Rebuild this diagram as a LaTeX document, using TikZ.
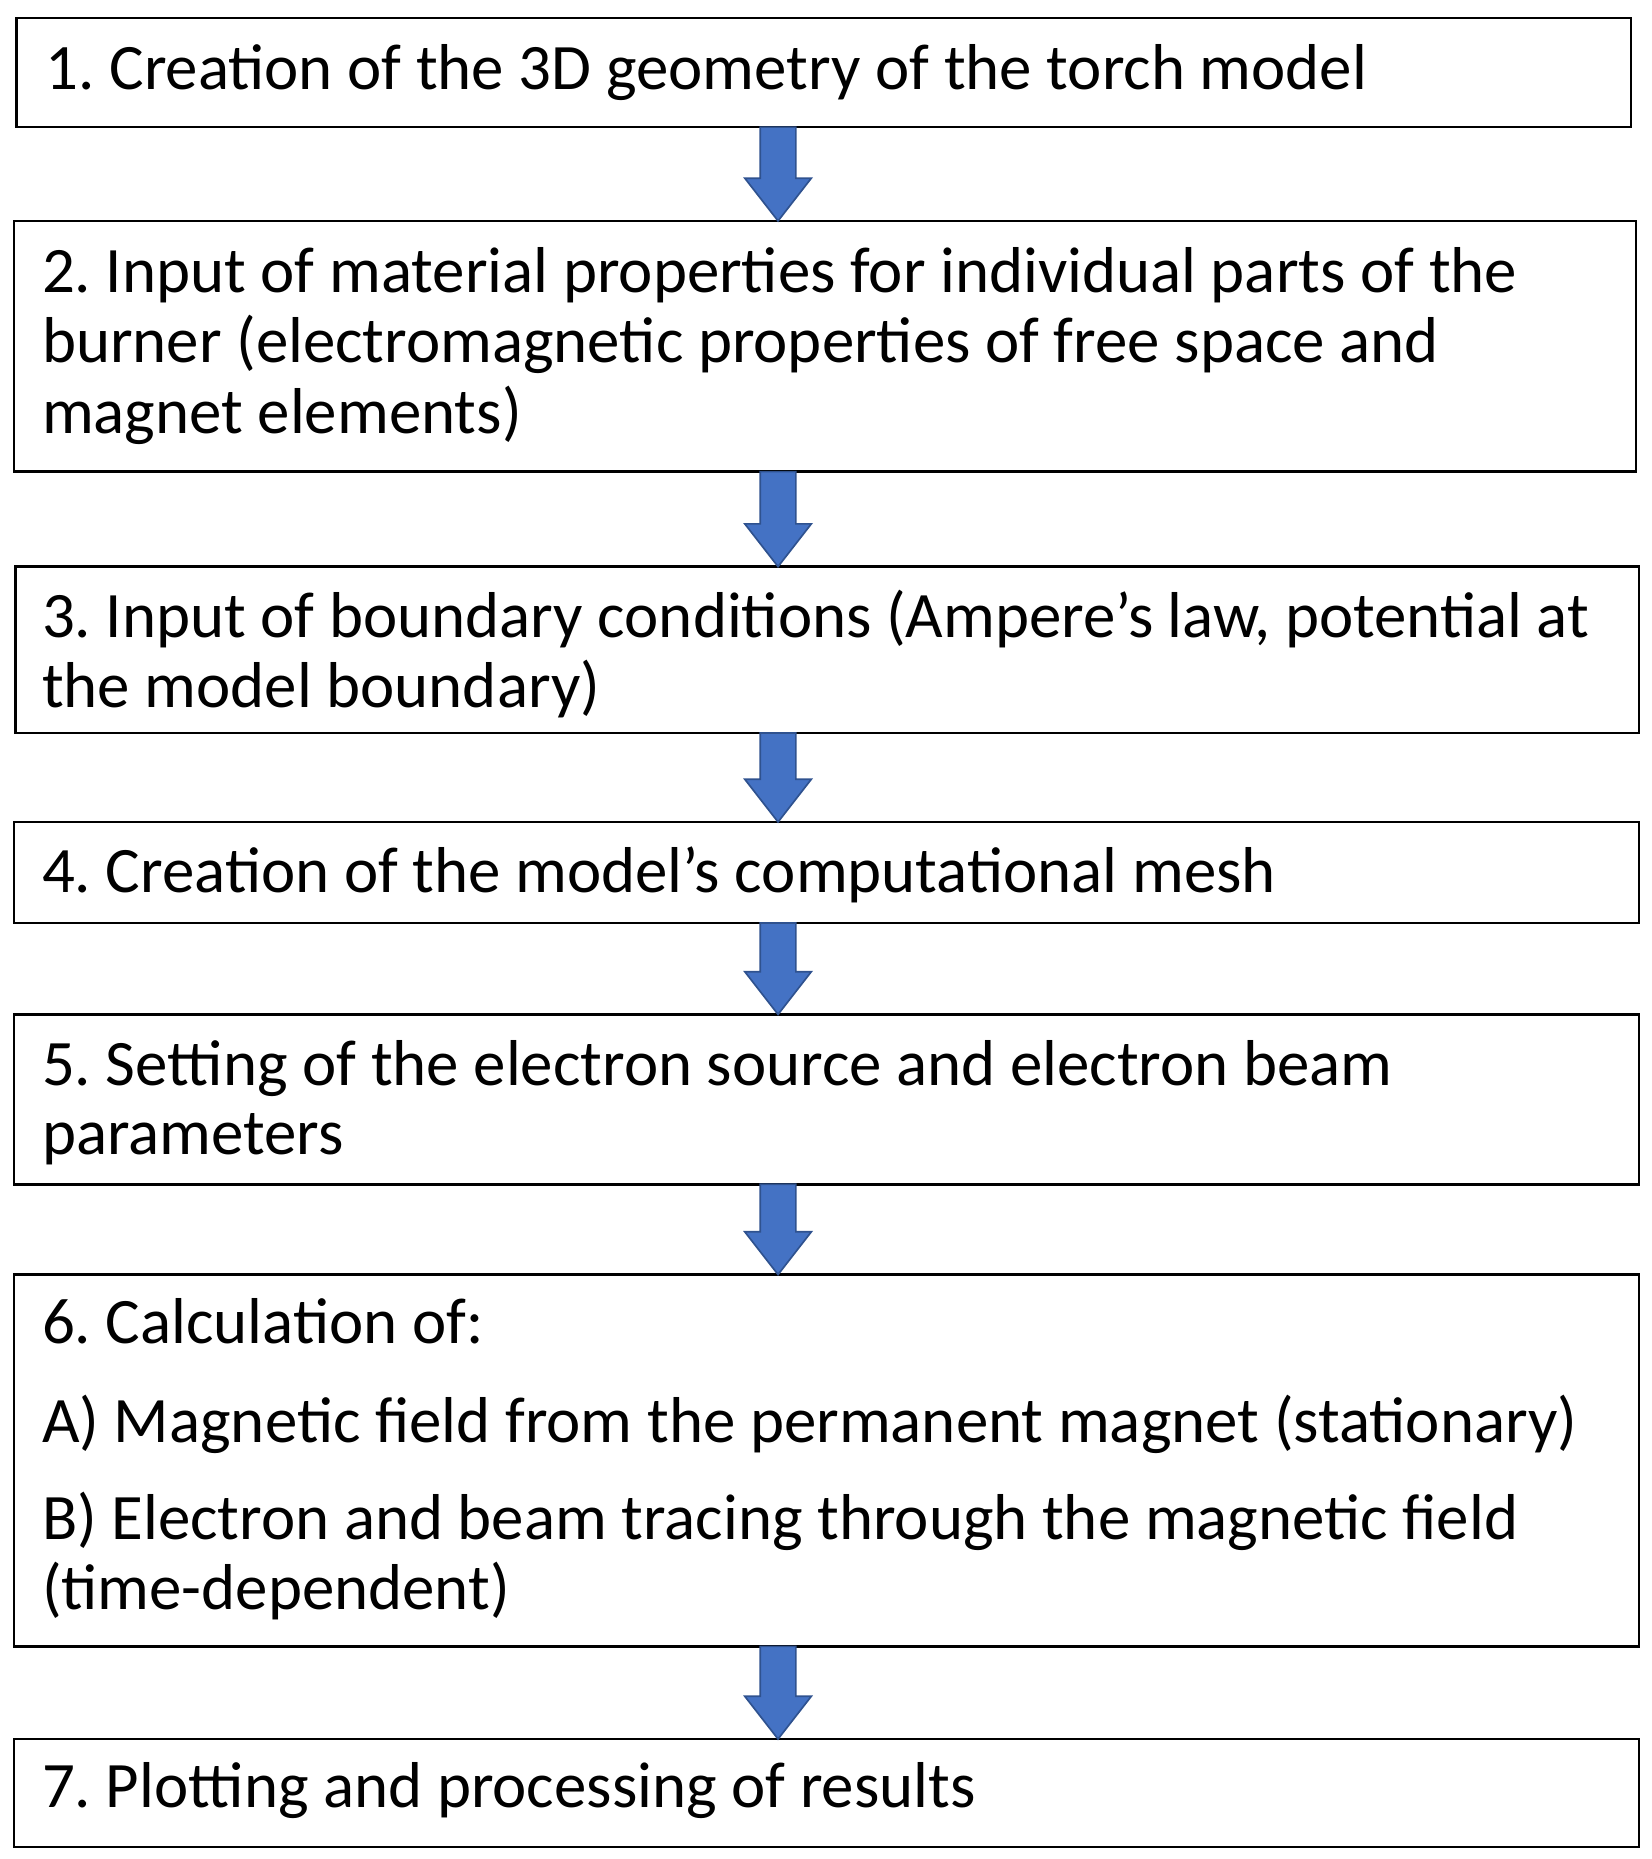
\documentclass[tikz,border=0pt]{standalone}
\usepackage{fontspec}
\setmainfont{Carlito}
\usetikzlibrary{calc}
\definecolor{arrowblue}{RGB}{68,114,196}
\definecolor{arrowedge}{RGB}{47,82,143}
\frenchspacing
\tikzset{
  box/.style={draw=black, line width=1pt, fill=white, anchor=north west, inner sep=0pt, outer sep=0pt},
  txt/.style={anchor=base west, inner sep=0pt, font=\fontsize{27.3pt}{30pt}\selectfont},
  barrow/.style={fill=arrowblue, draw=arrowedge, line width=0.7pt, line join=miter}
}
\newcommand{\blockarrow}[2]{%
  \path[barrow] let \p1=(#1.south -| ax), \p2=(#2.north -| ax) in
    (\x1-7.5pt,\y1) -- (\x1+7.5pt,\y1) -- (\x1+7.5pt,\y2+18pt) -- (\x1+14pt,\y2+18pt)
    -- (\x2,\y2) -- (\x1-14pt,\y2+18pt) -- (\x1-7.5pt,\y2+18pt) -- cycle;}
\begin{document}
\begin{tikzpicture}[x=0.5pt,y=-0.5pt]
\useasboundingbox (0,0) rectangle (1390,1565);
\coordinate (ax) at (655,0);
% boxes
\node[box, minimum width=679.5pt, minimum height=46pt] (b1) at (14,15) {};
\node[box, minimum width=682.5pt, minimum height=105.5pt] (b2) at (12,186) {};
\node[box, minimum width=683.5pt, minimum height=70pt] (b3) at (13,477) {};
\node[box, minimum width=684pt, minimum height=42.5pt] (b4) at (12,692) {};
\node[box, minimum width=684pt, minimum height=71.5pt] (b5) at (12,854) {};
\node[box, minimum width=684pt, minimum height=156.5pt] (b6) at (12,1073) {};
\node[box, minimum width=684pt, minimum height=45.5pt] (b7) at (12,1464) {};
% texts
\node[txt] (t1) at (38,75) {1. Creation of the 3D geometry of the torch model};
\node[txt] (t2a) at (35,246) {2. Input of material properties for individual parts of the};
\node[txt] (t2b) at (35,305) {burner (electromagnetic properties of free space and};
\node[txt] (t2c) at (35,365) {magnet elements)};
\node[txt] (t3a) at (35,537) {3. Input of boundary conditions (Ampere’s law, potential at};
\node[txt] (t3b) at (35,596) {the model boundary)};
\node[txt] (t4) at (35,751) {4. Creation of the model’s computational mesh};
\node[txt] (t5a) at (35,914) {5. Setting of the electron source and electron beam};
\node[txt] (t5b) at (35,972) {parameters};
\node[txt] (t6a) at (35,1131) {6. Calculation of:};
\node[txt] (t6b) at (35,1214) {A) Magnetic field from the permanent magnet (stationary)};
\node[txt] (t6c) at (35,1296) {B) Electron and beam tracing through the magnetic field};
\node[txt] (t6d) at (35,1355) {(time-dependent)};
\node[txt] (t7) at (35,1522) {7. Plotting and processing of results};
% arrows
\blockarrow{b1}{b2}
\blockarrow{b2}{b3}
\blockarrow{b3}{b4}
\blockarrow{b4}{b5}
\blockarrow{b5}{b6}
\blockarrow{b6}{b7}
\end{tikzpicture}
\end{document}
